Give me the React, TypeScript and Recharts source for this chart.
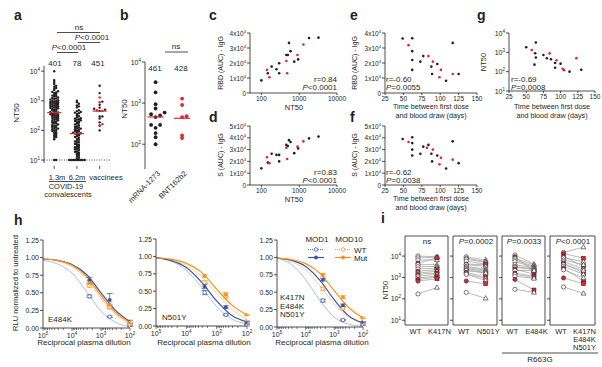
import React from 'react';
import {
  ScatterChart, ComposedChart, Scatter, Line, XAxis, YAxis,
  ReferenceLine, ReferenceArea, ErrorBar,
} from 'recharts';

const FONT = '"Liberation Sans", Arial, Helvetica, sans-serif';
const INK = '#231f20';
const RED = '#e3262c';
const BLUE = '#3a55a4';
const LBLUE = '#9aaede';
const ORANGE = '#f6921e';
const LORANGE = '#fcc17a';

// a: NT50 of convalescents at 1.3 and 6.2 months
const conv13m = [
  10000, 5000, 4300, 3700, 3200, 3000, 2700, 2500, 2300, 2100, 2000, 1900, 1800, 1700, 1600,
  1500, 1450, 1400, 1300, 1250, 1200, 1150, 1100, 1050, 1000, 980, 950, 920, 900, 870, 850,
  820, 800, 780, 750, 720, 700, 680, 660, 640, 620, 600, 580, 560, 540, 520, 500, 480, 460,
  440, 420, 401, 390, 380, 360, 350, 340, 330, 320, 310, 300, 290, 280, 270, 260, 250, 240,
  230, 220, 210, 200, 190, 180, 175, 170, 160, 150, 145, 140, 130, 125, 120, 115, 110, 105,
  100, 95, 90, 85, 80, 75, 70, 65, 60, 55, 50, 10, 10,
];
const conv62m = [
  1000, 900, 800, 700, 650, 600, 480, 450, 420, 400, 380, 360, 320, 300, 280, 260, 250, 240,
  230, 220, 210, 200, 190, 180, 170, 160, 150, 140, 130, 125, 120, 115, 110, 105, 100, 96,
  92, 88, 84, 80, 78, 76, 72, 68, 64, 60, 56, 52, 48, 45, 42, 40, 38, 35, 33, 32, 30, 28,
  27, 26, 24, 23, 22, 20, 19, 18, 17, 16, 15, 14, 13, 12, 11, 10, 10, 10, 10, 10, 10, 10,
  10, 10,
];
// vaccinees: black = mRNA-1273, red = BNT162b2
const ntModerna = [100, 148, 187, 251, 295, 295, 457, 500, 537, 590, 740, 940, 1820, 3240];
const ntPfizer = [141, 163, 457, 480, 900, 1290];
const mediansA = [401, 78, 451];
const mediansB = [461, 428];
const vaxNames = ['mRNA-1273', 'BNT162b2'];

// c, d: AUC against NT50 (same donors as ntModerna / ntPfizer)
const rbdModerna = [8400, 13200, 17600, 15800, 19800, 13200, 25300, 25300, 33400, 27900, 20900, 22400, 36700, 36900];
const rbdPfizer = [15400, 10500, 21300, 13200, 25300, 32300];
const sModerna = [14100, 19000, 26500, 25500, 25500, 20000, 34000, 33000, 38000, 36500, 27000, 31000, 39500, 41000];
const sPfizer = [23500, 18500, 31500, 22000, 32500, 37000];

// e, f, g: against days from first dose
const daysBlackE = [49, 62, 62, 62, 62, 73, 77, 88, 89, 96, 108, 117, 125];
const rbdBlackE = [36300, 36500, 27900, 22000, 15400, 20900, 24600, 17600, 12700, 19300, 8100, 33400, 12700];
const daysRedE = [57, 84, 90, 101, 99, 117];
const rbdRedE = [31900, 24600, 20900, 15400, 10500, 12700];
const daysBlackF = [49, 62, 62, 62, 62, 73, 77, 84, 88, 89, 96, 108, 117, 125];
const sBlackF = [39000, 40500, 35500, 30000, 25000, 26500, 32500, 34000, 26500, 20000, 25000, 14000, 37000, 18500];
const daysRedF = [57, 82, 90, 101, 99, 117];
const sRedF = [36500, 31500, 30000, 23000, 17500, 21500];
const daysBlackG = [50, 64, 63, 64, 62, 75, 80, 86, 92, 92, 100, 113, 130];
const ntBlackG = [1820, 3240, 890, 540, 230, 730, 490, 440, 280, 160, 260, 100, 126];
const daysRedG = [58, 84, 94, 103, 105, 123];
const ntRedG = [1320, 880, 390, 140, 120, 500];

// h: neutralisation curves, rows = MOD1 WT, MOD1 Mut, MOD10 WT, MOD10 Mut
const DIL = [2500, 500, 100];
const CURVE_X = [100000, 31623, 10000, 3162, 1000, 316, 100];
const fitE484K = [
  [0.96, 0.91, 0.78, 0.52, 0.24, 0.08, 0.02],
  [0.98, 0.96, 0.90, 0.76, 0.50, 0.25, 0.09],
  [0.98, 0.95, 0.87, 0.70, 0.42, 0.19, 0.06],
  [0.98, 0.96, 0.89, 0.73, 0.46, 0.22, 0.08],
];
const rluE484K = [[0.45, 0.16, 0.03], [0.68, 0.40, 0.09], [0.60, 0.30, 0.05], [0.64, 0.33, 0.08]];
const errE484K = [[0.02, 0.01, 0.01], [0.04, 0.09, 0.02], [0.02, 0.03, 0.01], [0.03, 0.05, 0.02]];
const fitN501Y = [
  [0.98, 0.93, 0.80, 0.56, 0.28, 0.10, 0.03],
  [0.98, 0.94, 0.84, 0.63, 0.36, 0.15, 0.06],
  [0.98, 0.95, 0.87, 0.71, 0.47, 0.24, 0.09],
  [0.98, 0.96, 0.90, 0.77, 0.53, 0.30, 0.16],
];
const rluN501Y = [[0.48, 0.16, 0.01], [0.57, 0.27, 0.05], [0.63, 0.43, 0.07], [0.72, 0.45, 0.16]];
const errN501Y = [[0.03, 0.01, 0.01], [0.03, 0.02, 0.01], [0.02, 0.03, 0.01], [0.02, 0.03, 0.01]];
const fitTriple = [
  [0.99, 0.90, 0.68, 0.38, 0.14, 0.04, 0.01],
  [0.99, 0.96, 0.87, 0.67, 0.39, 0.16, 0.06],
  [0.99, 0.94, 0.82, 0.59, 0.33, 0.14, 0.05],
  [0.99, 0.97, 0.91, 0.77, 0.52, 0.28, 0.13],
];
const rluTriple = [[0.38, 0.10, 0.03], [0.68, 0.31, 0.07], [0.55, 0.27, 0.05], [0.75, 0.43, 0.13]];
const errTriple = [[0.02, 0.01, 0.01], [0.02, 0.02, 0.01], [0.02, 0.02, 0.01], [0.02, 0.02, 0.01]];

// i: paired NT50, WT vs mutant pseudovirus (red = BNT162b2 donors)
const iWtK417N = [10000, 8300, 6600, 4700, 4000, 3200, 2500, 1950, 1600, 1400, 1150, 950, 810, 680, 170];
const iMutK417N = [9300, 8800, 6600, 8300, 4000, 3300, 2750, 2300, 1950, 1600, 1400, 1150, 1050, 870, 340];
const iRedK417N = [3, 7, 9, 12, 13];
const iWtN501Y = [9300, 8000, 7200, 5900, 4200, 4000, 3300, 2900, 2600, 2300, 2100, 1740, 1500, 1400, 680, 200];
const iMutN501Y = [6600, 5600, 5100, 4200, 4000, 3300, 2500, 2200, 1950, 1700, 1600, 1050, 900, 720, 510, 107];
const iRedN501Y = [4, 11, 14];
const iWtE484K = [11200, 9300, 7900, 6600, 5500, 4000, 3300, 3000, 2500, 2100, 1600, 1400, 1150, 810, 280];
const iMutE484K = [4200, 1950, 3900, 3300, 3000, 2750, 2500, 2300, 1400, 2100, 1150, 1000, 900, 260, 200];
const iRedE484K = [1, 8, 10, 13];
const iWtTriple = [14800, 13200, 10000, 8300, 6600, 5500, 4700, 4000, 3300, 2750, 2300, 950, 360];
const iMutTriple = [26300, 7900, 3200, 5500, 4000, 2500, 1600, 2100, 1400, 680, 950, 510, 180];
const iRedTriple = [1, 2, 6, 9, 11];

// ---------- helpers ----------
type Box = [number, number, number, number];
type Pad = [number, number, number, number];

function frame(b: Box, p: Pad) {
  const [x0, y0, x1, y1] = b;
  const [l, t, r, bt] = p;
  return {
    pos: { position: 'absolute' as const, left: x0 - l, top: y0 - t },
    chart: {
      width: x1 - x0 + l + r,
      height: y1 - y0 + t + bt,
      margin: { top: t, right: r, left: 0, bottom: 0 },
    },
    yw: l,
    xh: bt,
  };
}

const axisBase = {
  tickSize: 0,
  tickMargin: 0,
  tickLine: false,
  interval: 0 as const,
  allowDataOverflow: true,
  axisLine: { stroke: INK, strokeWidth: 0.8 },
};

const zip = (xs: number[], ys: number[]) => xs.map((x, i) => ({ x, y: ys[i] }));
const tag = (vals: number[], red: boolean) => vals.map((v) => ({ v, red }));

// beeswarm-style spread of a column of values (bins on log10)
function swarm(items: { v: number; red: boolean }[], center: number, step: number, bin: number) {
  const sorted = [...items].sort((p, q) => p.v - q.v);
  const used = new Map<number, number>();
  return sorted.map((it) => {
    const k = Math.round(Math.log10(it.v) / bin);
    const n = used.get(k) ?? 0;
    used.set(k, n + 1);
    const off = Math.ceil(n / 2) * step * (n % 2 ? 1 : -1);
    return { x: center + off, y: it.v, red: it.red };
  });
}

function Sup({ x, y, base, exp, anchor = 'end', fs = 7 }: any) {
  return (
    <text x={x} y={y} textAnchor={anchor} fontSize={fs} fill={INK} fontFamily={FONT}>
      {base}
      <tspan dy={-3} fontSize={fs * 0.65}>{exp}</tspan>
    </text>
  );
}

const logYTick = (show: boolean) => (p: any) => {
  const e = Math.round(Math.log10(p.payload.value));
  return (
    <g>
      <line x1={p.x - 3} x2={p.x} y1={p.y} y2={p.y} stroke={INK} strokeWidth={0.8} />
      {show && <Sup x={p.x - 4} y={p.y + 2.5} base="10" exp={e} />}
    </g>
  );
};

const aucTick = (p: any) => {
  const v = p.payload.value;
  return (
    <g>
      <line x1={p.x - 3} x2={p.x} y1={p.y} y2={p.y} stroke={INK} strokeWidth={0.8} />
      {v === 0 ? (
        <text x={p.x - 4} y={p.y + 2.5} textAnchor="end" fontSize={6.5} fill={INK} fontFamily={FONT}>0</text>
      ) : (
        <Sup x={p.x - 4} y={p.y + 2.5} base={`${v / 10000}x10`} exp="4" fs={6.5} />
      )}
    </g>
  );
};

const rluTick = (p: any) => (
  <g>
    <line x1={p.x - 3} x2={p.x} y1={p.y} y2={p.y} stroke={INK} strokeWidth={0.8} />
    <text x={p.x - 4} y={p.y + 2.5} textAnchor="end" fontSize={7} fill={INK} fontFamily={FONT}>
      {p.payload.value.toFixed(2)}
    </text>
  </g>
);

const bottomTick = (p: any) => (
  <g>
    <line x1={p.x} x2={p.x} y1={p.y} y2={p.y + 2} stroke={INK} strokeWidth={0.8} />
    <text x={p.x} y={p.y + 7.8} textAnchor="middle" fontSize={6.5} fill={INK} fontFamily={FONT}>
      {p.payload.value}
    </text>
  </g>
);

const markTick = (p: any) => (
  <line x1={p.x} x2={p.x} y1={p.y + 3} y2={p.y + 6} stroke={INK} strokeWidth={0.8} />
);

const vaxTick = (p: any) => {
  const ax = p.x + 5;
  const ay = p.y + 5;
  return (
    <text x={ax} y={ay} transform={`rotate(-45 ${ax} ${ay})`} textAnchor="end" fontSize={7.5} fill={INK} fontFamily={FONT}>
      {vaxNames[p.payload.value]}
    </text>
  );
};

const DIL_TICKS: number[] = [];
for (let d = 2; d < 5; d++) for (let k = 1; k < 10; k++) DIL_TICKS.push(k * 10 ** d);
DIL_TICKS.push(100000);

const dilTick = (p: any) => {
  const lg = Math.log10(p.payload.value);
  const major = Math.abs(lg - Math.round(lg)) < 1e-6;
  return (
    <g>
      <line x1={p.x} x2={p.x} y1={p.y} y2={p.y + (major ? 3 : 2)} stroke={INK} strokeWidth={0.6} />
      {major && <Sup x={p.x} y={p.y + 10} base="10" exp={Math.round(lg)} anchor="middle" />}
    </g>
  );
};

const dot = (r: number, fill: string) => (p: any) => <circle cx={p.cx} cy={p.cy} r={r} fill={fill} />;
const ring = (r: number, stroke: string) => (p: any) => (
  <circle cx={p.cx} cy={p.cy} r={r} fill="#fff" stroke={stroke} strokeWidth={0.8} />
);
const medianMark = (half: number) => (p: any) => (
  <line x1={p.cx - half} x2={p.cx + half} y1={p.cy} y2={p.cy} stroke={RED} strokeWidth={1.2} />
);

// ---------- panels ----------
function PanelA() {
  const f = frame([44, 65.5, 111, 162.4], [32, 4, 4, 10]);
  const pts = [
    ...swarm(tag(conv13m, false), 0, 0.085, 0.07),
    ...swarm(tag(conv62m, false), 1, 0.085, 0.07),
    ...swarm([...tag(ntModerna, false), ...tag(ntPfizer, true)], 2, 0.12, 0.1),
  ];
  return (
    <div style={f.pos}>
      <ScatterChart {...f.chart}>
        <XAxis {...axisBase} type="number" dataKey="x" domain={[-0.45, 2.5]} ticks={[0, 1, 2]} height={f.xh} axisLine={false} tick={markTick} />
        <YAxis {...axisBase} type="number" dataKey="y" scale="log" domain={[8, 15000]} ticks={[10, 100, 1000, 10000]} width={f.yw} tick={logYTick(true)} />
        <ReferenceLine y={10} stroke={INK} strokeWidth={0.8} strokeDasharray="1 1.5" />
        <Scatter data={pts.filter((d) => !d.red)} shape={dot(1.2, INK)} isAnimationActive={false} />
        <Scatter data={pts.filter((d) => d.red)} shape={dot(1.2, RED)} isAnimationActive={false} />
        <Scatter data={mediansA.map((m, i) => ({ x: i, y: m }))} shape={medianMark(7)} isAnimationActive={false} />
      </ScatterChart>
    </div>
  );
}

function PanelB() {
  const f = frame([145, 62, 198, 169], [26, 4, 6, 36]);
  const black = swarm(tag(ntModerna, false), 0, 0.17, 0.15);
  const red = swarm(tag(ntPfizer, true), 1, 0.17, 0.15);
  return (
    <div style={f.pos}>
      <ScatterChart {...f.chart}>
        <XAxis {...axisBase} type="number" dataKey="x" domain={[-0.4, 1.6]} ticks={[0, 1]} height={f.xh} axisLine={false} tick={vaxTick} />
        <YAxis {...axisBase} type="number" dataKey="y" scale="log" domain={[25, 10000]} ticks={[100, 1000, 10000]} width={f.yw} tick={logYTick(true)} />
        <Scatter data={black} shape={dot(1.9, INK)} isAnimationActive={false} />
        <Scatter data={red} shape={dot(1.9, RED)} isAnimationActive={false} />
        <Scatter data={mediansB.map((m, i) => ({ x: i, y: m }))} shape={medianMark(8)} isAnimationActive={false} />
      </ScatterChart>
    </div>
  );
}

function Corr({ box, pad, xAxis, yAxis, black, red }: any) {
  const f = frame(box, pad);
  return (
    <div style={f.pos}>
      <ScatterChart {...f.chart}>
        <XAxis {...axisBase} type="number" dataKey="x" height={f.xh} tick={bottomTick} {...xAxis} />
        <YAxis {...axisBase} type="number" dataKey="y" width={f.yw} {...yAxis} />
        <Scatter data={black} shape={dot(1.3, INK)} isAnimationActive={false} />
        <Scatter data={red} shape={dot(1.3, RED)} isAnimationActive={false} />
      </ScatterChart>
    </div>
  );
}

const ntX = { scale: 'log', domain: [50, 10000], ticks: [100, 1000, 10000] };
const dayX = { domain: [25, 150], ticks: [25, 50, 75, 100, 125, 150] };
const rbdY = { domain: [0, 40000], ticks: [0, 10000, 20000, 30000, 40000], tick: aucTick };
const sY = { domain: [0, 50000], ticks: [0, 10000, 20000, 30000, 40000, 50000], tick: aucTick };
const ntY = { scale: 'log', domain: [10, 10000], ticks: [10, 100, 1000, 10000], tick: logYTick(true) };

const SERIES = [
  { line: LBLUE, w: 0.8, mark: BLUE, filled: false },
  { line: LORANGE, w: 0.8, mark: ORANGE, filled: false },
  { line: BLUE, w: 1.2, mark: BLUE, filled: true },
  { line: ORANGE, w: 1.2, mark: ORANGE, filled: true },
];
const SERIES_ROW = [0, 2, 1, 3]; // SERIES index -> row of fit/rlu arrays

function Neut({ box, fits, rlus, errs }: any) {
  const f = frame(box, [26, 4, 8, 14]);
  return (
    <div style={f.pos}>
      <ComposedChart {...f.chart}>
        <XAxis {...axisBase} type="number" dataKey="x" scale="log" domain={[100, 100000]} reversed ticks={DIL_TICKS} height={f.xh} tick={dilTick} />
        <YAxis {...axisBase} type="number" dataKey="y" domain={[0, 1.25]} ticks={[0, 0.25, 0.5, 0.75, 1, 1.25]} width={f.yw} tick={rluTick} />
        {SERIES.map((s, k) => (
          <Line key={'c' + k} data={zip(CURVE_X, fits[SERIES_ROW[k]])} dataKey="y" type="monotone"
            stroke={s.line} strokeWidth={s.w} dot={false} isAnimationActive={false} />
        ))}
        {SERIES.map((s, k) => (
          <Scatter key={'p' + k}
            data={DIL.map((d, i) => ({ x: d, y: rlus[SERIES_ROW[k]][i], e: errs[SERIES_ROW[k]][i] }))}
            shape={s.filled ? dot(1.9, s.mark) : ring(1.8, s.mark)} isAnimationActive={false}>
            <ErrorBar dataKey="e" direction="y" width={3} stroke={s.mark} strokeWidth={0.7} />
          </Scatter>
        ))}
      </ComposedChart>
    </div>
  );
}

const pairShape = (p: any) => {
  const { cx, cy } = p;
  const red = p.payload.red;
  if (p.payload.x === 0) {
    return <circle cx={cx} cy={cy} r={2.1} fill={red ? RED : '#fff'} stroke={INK} strokeWidth={0.6} />;
  }
  if (red) return <rect x={cx - 2} y={cy - 2} width={4} height={4} fill={RED} stroke={INK} strokeWidth={0.5} />;
  return (
    <polygon points={`${cx},${cy - 2.6} ${cx + 2.4},${cy + 1.7} ${cx - 2.4},${cy + 1.7}`} fill="#fff" stroke={INK} strokeWidth={0.6} />
  );
};

// labels sit a little apart from the point columns, as in the figure
const pairTick = (labels: string[][]) => (p: any) => {
  const lines = labels[p.payload.value];
  const x = p.x + (p.payload.value === 0 ? -2.5 : lines.length > 1 ? 1 : 2.5);
  return (
    <text x={x} y={p.y + 9} textAnchor="middle" fontSize={7.5} fill={INK} fontFamily={FONT}>
      {lines.map((s, i) => (
        <tspan key={i} x={x} dy={i === 0 ? 0 : 8}>{s}</tspan>
      ))}
    </text>
  );
};

function Pair({ box, wt, mut, red, labels, showY }: any) {
  const f = frame(box, [showY ? 22 : 6, 2, 6, 32]);
  return (
    <div style={f.pos}>
      <ScatterChart {...f.chart}>
        <XAxis {...axisBase} type="number" dataKey="x" domain={[-0.68, 1.58]} ticks={[0, 1]} height={f.xh} axisLine={false} tick={pairTick(labels)} />
        <YAxis {...axisBase} type="number" dataKey="y" scale="log" domain={[6, 87000]} ticks={[10, 100, 1000, 10000]} width={f.yw} axisLine={false} tick={logYTick(showY)} />
        <ReferenceArea x1={-0.68} x2={1.58} y1={6} y2={87000} fill="none" stroke={INK} strokeWidth={0.8} ifOverflow="visible" />
        {wt.map((w: number, i: number) => (
          <Scatter key={i}
            data={[{ x: 0, y: w, red: red.includes(i) }, { x: 1, y: mut[i], red: red.includes(i) }]}
            line={{ stroke: '#8c8c8c', strokeWidth: 0.6 }} shape={pairShape} isAnimationActive={false} />
        ))}
      </ScatterChart>
    </div>
  );
}

function T({ x, y, children, a = 'middle', s = 8, w, rot }: any) {
  return (
    <text x={x} y={y} textAnchor={a} fontSize={s} fontWeight={w}
      transform={rot ? `rotate(${rot} ${x} ${y})` : undefined} fill={INK} fontFamily={FONT}>
      {children}
    </text>
  );
}
const P = () => <tspan fontStyle="italic">P</tspan>;

function Overlay() {
  const letters: [string, number, number][] = [
    ['a', 14, 20], ['b', 120, 20], ['c', 209, 20], ['e', 350, 20], ['g', 477, 20],
    ['d', 209, 122], ['f', 350, 122], ['h', 14, 225], ['i', 381, 223],
  ];
  const ln = { stroke: INK, strokeWidth: 0.8 };
  return (
    <svg width={602} height={367} style={{ position: 'absolute', left: 0, top: 0, pointerEvents: 'none' }}>
      {letters.map(([c, x, y]) => <T key={c} x={x} y={y} a="start" s={14} w="bold">{c}</T>)}

      {/* a */}
      <T x={79} y={30}>ns</T>
      <line x1={57} x2={100} y1={32.5} y2={32.5} {...ln} />
      <T x={92} y={40}><P />{'<0.0001'}</T>
      <line x1={78} x2={100} y1={42.5} y2={42.5} {...ln} />
      <T x={69} y={50}><P />{'<0.0001'}</T>
      <line x1={57} x2={78} y1={52.5} y2={52.5} {...ln} />
      {mediansA.map((m, i) => <T key={i} x={[55, 77, 98][i]} y={66}>{m}</T>)}
      <T x={19} y={113} rot={-90}>NT50</T>
      <T x={57} y={180} s={7.5}>1.3m</T>
      <T x={77} y={180} s={7.5}>6.2m</T>
      <T x={106} y={180} s={7.5}>vaccinees</T>
      <line x1={49} x2={86} y1={181.5} y2={181.5} {...ln} />
      <T x={66} y={188.5} s={7.5}>COVID-19</T>
      <T x={68} y={197} s={7.5}>convalescents</T>

      {/* b */}
      <T x={176} y={49}>ns</T>
      <line x1={165} x2={188} y1={52} y2={52} {...ln} />
      {mediansB.map((m, i) => <T key={i} x={[155, 181][i]} y={71}>{m}</T>)}
      <T x={127} y={109} rot={-90}>NT50</T>

      {/* c */}
      <T x={223} y={63} s={7} rot={-90}>RBD (AUC) - IgG</T>
      <T x={337} y={82} a="end">r=0.84</T>
      <T x={337} y={90} a="end"><P />{'<0.0001'}</T>
      <T x={294} y={110} s={7.5}>NT50</T>
      {/* d */}
      <T x={223} y={155} s={7} rot={-90}>S (AUC) - IgG</T>
      <T x={337} y={175} a="end">r=0.83</T>
      <T x={337} y={183} a="end"><P />{'<0.0001'}</T>
      <T x={294} y={202} s={7.5}>NT50</T>
      {/* e */}
      <T x={357} y={63} s={7} rot={-90}>RBD (AUC) - IgG</T>
      <T x={386} y={82} a="start">r=-0.60</T>
      <T x={386} y={90} a="start"><P />=0.0055</T>
      <T x={431} y={109} s={7.2}>Time between first dose</T>
      <T x={431} y={118} s={7.2}>and blood draw (days)</T>
      {/* f */}
      <T x={357} y={155} s={7} rot={-90}>S (AUC) - IgG</T>
      <T x={386} y={175} a="start">r=-0.62</T>
      <T x={386} y={183} a="start"><P />=0.0038</T>
      <T x={431} y={201} s={7.2}>Time between first dose</T>
      <T x={431} y={210} s={7.2}>and blood draw (days)</T>
      {/* g */}
      <T x={486} y={62} s={7.5} rot={-90}>NT50</T>
      <T x={511} y={82} a="start">r=-0.69</T>
      <T x={511} y={90} a="start"><P />=0.0008</T>
      <T x={552} y={109} s={7.2}>Time between first dose</T>
      <T x={552} y={118} s={7.2}>and blood draw (days)</T>

      {/* h */}
      <T x={18} y={283} s={7.5} rot={-90}>RLU normalized to untreated</T>
      <T x={48} y={322} a="start">E484K</T>
      <T x={162} y={320} a="start">N501Y</T>
      <T x={280} y={300} a="start">K417N</T>
      <T x={280} y={308.5} a="start">E484K</T>
      <T x={280} y={317} a="start">N501Y</T>
      <T x={84} y={345}>Reciprocal plasma dilution</T>
      <T x={204} y={345}>Reciprocal plasma dilution</T>
      <T x={322} y={345}>Reciprocal plasma dilution</T>
      <T x={317} y={242}>MOD1</T>
      <T x={349} y={242}>MOD10</T>
      <line x1={308} x2={324} y1={249.5} y2={249.5} stroke={BLUE} strokeWidth={0.8} strokeDasharray="1 1" />
      <circle cx={316} cy={249.5} r={1.8} fill="#fff" stroke={BLUE} strokeWidth={0.8} />
      <line x1={335} x2={351} y1={249.5} y2={249.5} stroke={ORANGE} strokeWidth={0.8} strokeDasharray="1 1" />
      <circle cx={343} cy={249.5} r={1.8} fill="#fff" stroke={ORANGE} strokeWidth={0.8} />
      <T x={354} y={252.5} a="start">WT</T>
      <line x1={308} x2={324} y1={257.5} y2={257.5} stroke={BLUE} strokeWidth={1.2} />
      <circle cx={316} cy={257.5} r={1.9} fill={BLUE} />
      <line x1={335} x2={351} y1={257.5} y2={257.5} stroke={ORANGE} strokeWidth={1.2} />
      <circle cx={343} cy={257.5} r={1.9} fill={ORANGE} />
      <T x={354} y={260.5} a="start">Mut</T>

      {/* i */}
      <T x={388} y={290} s={7.5} rot={-90}>NT50</T>
      <T x={427} y={244}>ns</T>
      <T x={476} y={244}><P />=0.0002</T>
      <T x={524} y={244}><P />=0.0033</T>
      <T x={573} y={244}><P />{'<0.0001'}</T>
      <line x1={502} x2={598} y1={353} y2={353} {...ln} />
      <T x={540} y={362}>R663G</T>
    </svg>
  );
}

export default function App() {
  return (
    <div style={{ position: 'absolute', left: 0, top: 0, width: 602, height: 367, background: '#fff', overflow: 'hidden', fontFamily: FONT }}>
      <PanelA />
      <PanelB />
      <Corr box={[250, 33, 337, 93]} pad={[30, 4, 10, 14]} xAxis={ntX} yAxis={rbdY}
        black={zip(ntModerna, rbdModerna)} red={zip(ntPfizer, rbdPfizer)} />
      <Corr box={[250, 126, 337, 185]} pad={[30, 4, 10, 14]} xAxis={ntX} yAxis={sY}
        black={zip(ntModerna, sModerna)} red={zip(ntPfizer, sPfizer)} />
      <Corr box={[385, 33, 477, 93]} pad={[26, 4, 8, 14]} xAxis={dayX} yAxis={rbdY}
        black={zip(daysBlackE, rbdBlackE)} red={zip(daysRedE, rbdRedE)} />
      <Corr box={[385, 126, 477, 185]} pad={[26, 4, 8, 14]} xAxis={dayX} yAxis={sY}
        black={zip(daysBlackF, sBlackF)} red={zip(daysRedF, sRedF)} />
      <Corr box={[509, 33, 595, 91]} pad={[20, 4, 7, 14]} xAxis={dayX} yAxis={ntY}
        black={zip(daysBlackG, ntBlackG)} red={zip(daysRedG, ntRedG)} />
      <Neut box={[43, 240, 130, 328]} fits={fitE484K} rlus={rluE484K} errs={errE484K} />
      <Neut box={[156, 239, 247, 326]} fits={fitN501Y} rlus={rluN501Y} errs={errN501Y} />
      <Neut box={[277, 240, 363, 327]} fits={fitTriple} rlus={rluTriple} errs={errTriple} />
      <Pair box={[405, 236, 448, 325]} wt={iWtK417N} mut={iMutK417N} red={iRedK417N} labels={[['WT'], ['K417N']]} showY />
      <Pair box={[453, 236, 497, 325]} wt={iWtN501Y} mut={iMutN501Y} red={iRedN501Y} labels={[['WT'], ['N501Y']]} />
      <Pair box={[502, 236, 545, 325]} wt={iWtE484K} mut={iMutE484K} red={iRedE484K} labels={[['WT'], ['E484K']]} />
      <Pair box={[550, 236, 595, 325]} wt={iWtTriple} mut={iMutTriple} red={iRedTriple} labels={[['WT'], ['K417N', 'E484K', 'N501Y']]} />
      <Overlay />
    </div>
  );
}
